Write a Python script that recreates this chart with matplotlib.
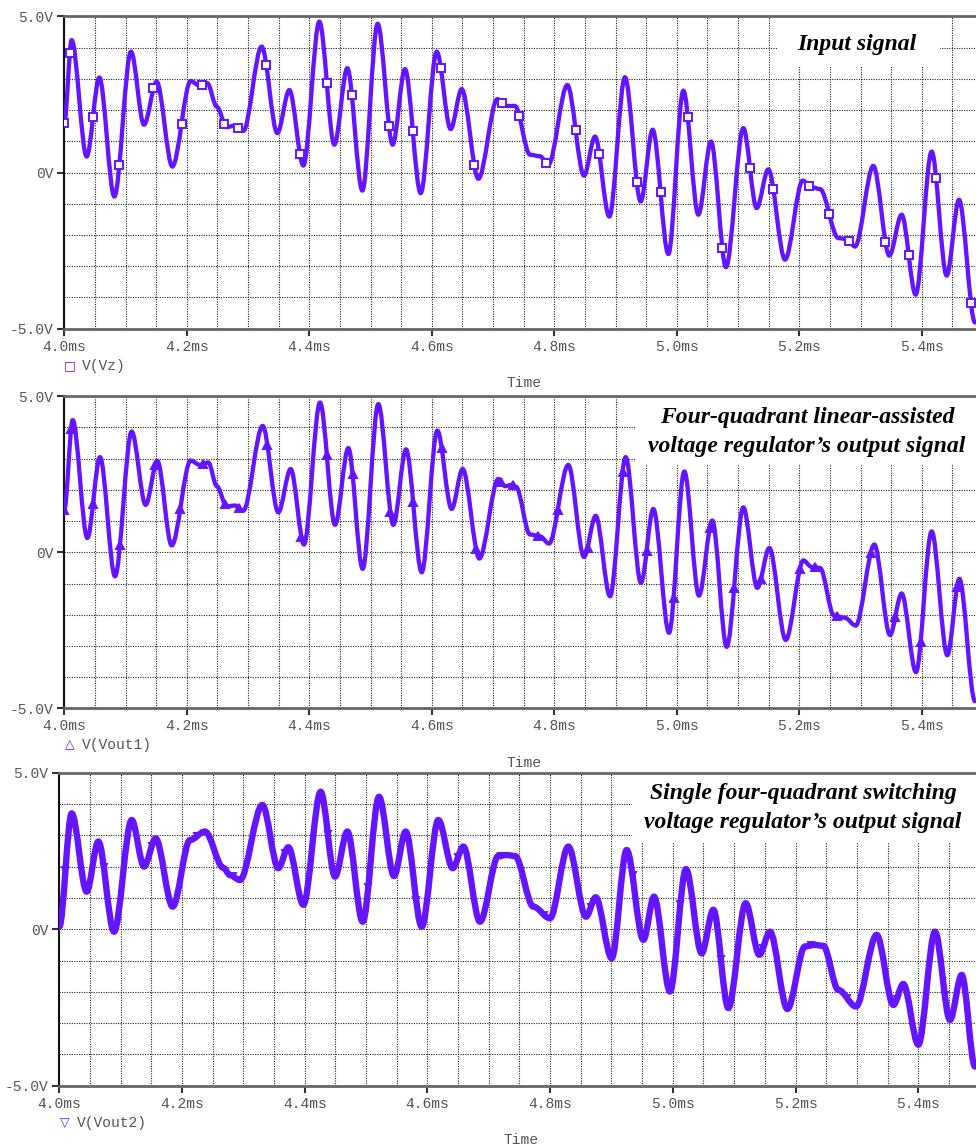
import numpy as np
import matplotlib
matplotlib.use("Agg")
import matplotlib.pyplot as plt
from matplotlib.patches import Rectangle, PathPatch
from matplotlib.path import Path

# V(Vz) - input signal (ms, V)
t_vz = [4.0000, 4.0120, 4.0365, 4.0572, 4.0817, 4.1089, 4.1301, 4.1508, 4.1764,
        4.2063, 4.2216, 4.2335, 4.2488, 4.2651, 4.2760, 4.2923, 4.3222, 4.3478,
        4.3674, 4.3903, 4.4164, 4.4409, 4.4621, 4.4866, 4.5116, 4.5361, 4.5562,
        4.5818, 4.6080, 4.6308, 4.6488, 4.6760, 4.7070, 4.7222, 4.7358, 4.7603,
        4.7767, 4.7903, 4.8213, 4.8485, 4.8665, 4.8898, 4.9154, 4.9410, 4.9606,
        4.9862, 5.0107, 5.0352, 5.0558, 5.0803, 5.1086, 5.1304, 5.1494, 5.1767,
        5.2055, 5.2202, 5.2338, 5.2637, 5.2773, 5.2910, 5.3209, 5.3470, 5.3671,
        5.3900, 5.4161, 5.4406, 5.4607, 5.4868]
v_vz = [1.60, 4.24, 0.51, 3.04, -0.77, 3.87, 1.53, 2.91, 0.19,
        2.93, 2.77, 2.86, 2.11, 1.45, 1.49, 1.33, 4.03, 1.26,
        2.64, 0.22, 4.83, 0.89, 3.34, -0.58, 4.76, 0.89, 3.31,
        -0.66, 3.87, 1.39, 2.67, -0.20, 2.35, 2.13, 2.13, 0.57,
        0.52, 0.25, 2.80, -0.10, 1.15, -1.41, 3.05, -0.93, 1.37,
        -2.61, 2.62, -1.35, 0.99, -3.03, 1.42, -1.14, 0.10, -2.79,
        -0.26, -0.47, -0.53, -2.10, -2.13, -2.37, 0.21, -2.66, -1.35,
        -3.91, 0.67, -3.30, -0.87, -4.80]

# V(Vout1) - linear-assisted regulator output
t_vout1 = [4.0000, 4.0137, 4.0376, 4.0583, 4.0828, 4.1100, 4.1328, 4.1519, 4.1753,
           4.2063, 4.2216, 4.2352, 4.2490, 4.2651, 4.2787, 4.2923, 4.3239, 4.3494,
           4.3696, 4.3913, 4.4175, 4.4420, 4.4637, 4.4871, 4.5127, 4.5372, 4.5579,
           4.5835, 4.6090, 4.6324, 4.6504, 4.6776, 4.7086, 4.7195, 4.7304, 4.7375,
           4.7603, 4.7767, 4.7914, 4.8229, 4.8485, 4.8676, 4.8910, 4.9165, 4.9415,
           4.9617, 4.9873, 5.0123, 5.0362, 5.0580, 5.0814, 5.1086, 5.1315, 5.1511,
           5.1778, 5.2066, 5.2202, 5.2338, 5.2567, 5.2746, 5.2920, 5.3225, 5.3481,
           5.3671, 5.3905, 5.4161, 5.4417, 5.4613, 5.4868]
v_vout1 = [1.37, 4.24, 0.46, 3.05, -0.77, 3.87, 1.52, 2.93, 0.22,
           2.94, 2.80, 2.88, 2.12, 1.47, 1.50, 1.34, 4.05, 1.28,
           2.67, 0.25, 4.80, 0.88, 3.34, -0.53, 4.75, 0.88, 3.30,
           -0.64, 3.90, 1.39, 2.67, -0.20, 2.35, 2.12, 2.16, 2.10,
           0.57, 0.51, 0.28, 2.80, -0.15, 1.17, -1.41, 3.05, -0.98,
           1.39, -2.58, 2.59, -1.39, 1.02, -3.03, 1.44, -1.14, 0.14,
           -2.81, -0.26, -0.47, -0.50, -2.03, -2.10, -2.35, 0.25, -2.65,
           -1.32, -3.84, 0.67, -3.30, -0.85, -4.77]

# V(Vout2) - switching regulator output
t_vout2 = [4.0000, 4.0202, 4.0446, 4.0636, 4.0892, 4.1180, 4.1381, 4.1571, 4.1848,
           4.2130, 4.2375, 4.2674, 4.2782, 4.2945, 4.3310, 4.3570, 4.3733, 4.3978,
           4.4260, 4.4494, 4.4695, 4.4945, 4.5211, 4.5456, 4.5646, 4.5907, 4.6178,
           4.6412, 4.6586, 4.6857, 4.7156, 4.7290, 4.7428, 4.7727, 4.7998, 4.8297,
           4.8585, 4.8743, 4.9004, 4.9248, 4.9520, 4.9694, 4.9954, 5.0215, 5.0470,
           5.0661, 5.0905, 5.1188, 5.1410, 5.1584, 5.1867, 5.2155, 5.2300, 5.2453,
           5.2698, 5.2986, 5.3323, 5.3595, 5.3757, 5.4002, 5.4274, 5.4518, 5.4709,
           5.4926]
v_vout2 = [0.08, 3.70, 1.20, 2.80, -0.08, 3.49, 2.00, 2.90, 0.72,
           2.85, 3.12, 1.96, 1.73, 1.57, 3.97, 1.95, 2.62, 0.78,
           4.39, 1.68, 3.12, 0.24, 4.23, 1.70, 3.12, 0.08, 3.49,
           1.95, 2.64, 0.24, 2.34, 2.37, 2.34, 0.72, 0.35, 2.64,
           0.40, 1.02, -0.93, 2.53, -0.34, 1.04, -1.99, 1.92, -0.77,
           0.62, -2.52, 0.83, -0.82, -0.08, -2.55, -0.55, -0.50, -0.53,
           -1.94, -2.47, -0.18, -2.42, -1.75, -3.69, -0.08, -2.90, -1.46,
           -4.39]

x_ticks = [4.0, 4.2, 4.4, 4.6, 4.8, 5.0, 5.2, 5.4]
x_labels = ["4.0ms", "4.2ms", "4.4ms", "4.6ms", "4.8ms", "5.0ms", "5.2ms", "5.4ms"]
y_ticks = [-5, 0, 5]
y_labels = ["-5.0V", "0V", "5.0V"]

W, H = 976, 1148
TRACE = "#6414ff"
MONO = "Liberation Mono"
GRAY = "#555555"


def fx(x):
    return x / W


def fy(y):
    return 1 - y / H


def setup_axes(rect, xmax):
    ax = fig.add_axes(rect)
    ax.set_xlim(4.0, xmax)
    ax.set_ylim(-5, 5)
    ax.set_xticks(x_ticks)
    ax.set_xticklabels(x_labels)
    ax.set_xticks(np.arange(4.0, 5.5, 0.05), minor=True)
    ax.set_yticks(y_ticks)
    ax.set_yticklabels(y_labels)
    ax.set_yticks(np.arange(-5, 6, 1), minor=True)
    ax.grid(which="both", color="#222222", linestyle=(0, (1, 1.2)), linewidth=0.8)
    ax.set_axisbelow(True)
    ax.tick_params(which="major", direction="out", length=5, width=1.5,
                   color="#333333", labelcolor=GRAY, labelsize=10.5, pad=3)
    ax.tick_params(which="minor", length=0)
    for lab in ax.get_xticklabels() + ax.get_yticklabels():
        lab.set_fontfamily(MONO)
    ax.spines["right"].set_visible(False)
    ax.spines["left"].set_color("#111111")
    ax.spines["left"].set_linewidth(1.5)
    for s in ("top", "bottom"):
        ax.spines[s].set_color("#666666")
        ax.spines[s].set_linewidth(2)
    return ax


def title_box(ax, x0, x1, y0):
    ax.add_patch(Rectangle((x0, y0), x1 - x0, 1 - y0, transform=ax.transAxes,
                           facecolor="white", edgecolor="none", zorder=1))


def serif(x, y, s):
    fig.text(fx(x), fy(y), s, ha="center", va="baseline", fontsize=17,
             family="Liberation Serif", weight="bold", style="italic", color="black")


def trace(ax, t, v, lw, marker, ms, mfc, every, frac):
    # smooth curve through the read extrema: cubic segments, flat at each point
    verts = [(t[0], v[0])]
    codes = [Path.MOVETO]
    for i in range(1, len(t)):
        d = (t[i] - t[i - 1]) / 3
        verts += [(t[i - 1] + d, v[i - 1]), (t[i] - d, v[i]), (t[i], v[i])]
        codes += [Path.CURVE4] * 3
    path = Path(verts, codes)
    ax.add_patch(PathPatch(path, fill=False, edgecolor=TRACE, lw=lw,
                           capstyle="round", joinstyle="round", zorder=3))
    segs = [seg for seg, code in path.iter_bezier() if code == Path.CURVE4]
    pts = [segs[i].point_at_t(frac[(i // every) % len(frac)])
           for i in range(0, len(segs), every)]
    pts = np.array([(t[0], v[0])] + pts)
    ax.plot(pts[:, 0], pts[:, 1], ls="none", marker=marker, ms=ms, mfc=mfc,
            mec=TRACE, mew=1.4, zorder=4)


fig = plt.figure(figsize=(W / 100, H / 100), dpi=100)

# panel 1
ax1 = setup_axes([fx(64.3), fy(328.7), (W - 64.3) / W, 312.4 / H], 5.4885)
title_box(ax1, 0.782, 0.961, 0.838)
trace(ax1, t_vz, v_vz, 3.1, "s", 5.2, "white", 2, [0.75, 0.5, 0.3])
serif(857, 50, "Input signal")

# panel 2
ax2 = setup_axes([fx(64.3), fy(708.3), (W - 64.3) / W, 312.0 / H], 5.4885)
title_box(ax2, 0.626, 1.01, 0.783)
trace(ax2, t_vout1, v_vout1, 3.1, "^", 5.8, TRACE, 2, [0.8, 0.45, 0.3])
serif(807, 422.7, "Four-quadrant linear-assisted")
serif(807, 451.7, "voltage regulator\u2019s output signal")

# panel 3
ax3 = setup_axes([fx(59.3), fy(1085.7), (W - 59.3) / W, 313.0 / H], 5.4942)
title_box(ax3, 0.625, 1.01, 0.779)
trace(ax3, t_vout2, v_vout2, 4.6, "v", 4.5, TRACE, 3, [0.5, 0.35, 0.65])
serif(803, 799.3, "Single four-quadrant switching")
serif(803, 828.3, "voltage regulator\u2019s output signal")

# legends and axis names
legends = [(70, 366, 82, "\u25a1", "V(Vz)", 383, 524),
           (70, 745, 82, "\u25b3", "V(Vout1)", 762.7, 524),
           (65, 1122.7, 77, "\u25bd", "V(Vout2)", 1140, 521)]
for sx, sy, tx, sym, name, ty, tcx in legends:
    fig.text(fx(sx), fy(sy), sym, ha="center", va="center", fontsize=9,
             color=TRACE, family="DejaVu Sans")
    fig.text(fx(tx), fy(sy), name, ha="left", va="center", fontsize=10.5,
             color=GRAY, family=MONO)
    fig.text(fx(tcx), fy(ty), "Time", ha="center", va="center", fontsize=10.5,
             color=GRAY, family=MONO)

fig.savefig("out.png", dpi=100)
